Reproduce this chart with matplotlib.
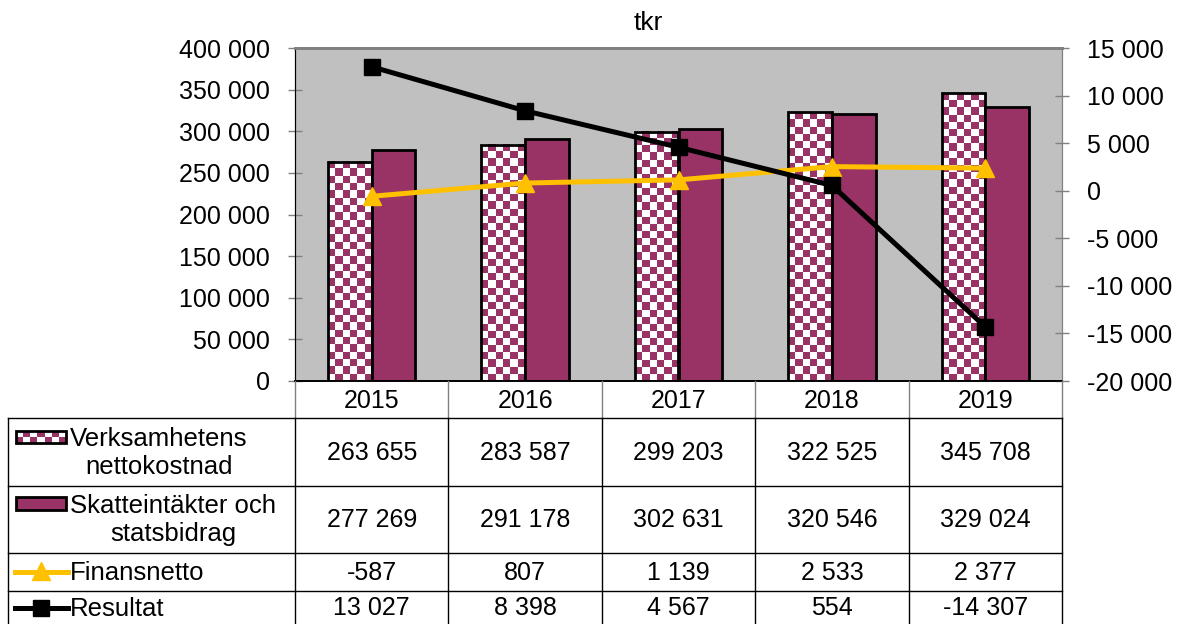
"""
Excel style combo chart with data table: nettokostnad vs skatteintäkter, tkr
"""

import matplotlib
matplotlib.use("Agg")
import matplotlib.pyplot as plt
import numpy as np
from matplotlib.colors import ListedColormap
from matplotlib.patches import Rectangle

plt.rcParams["font.family"] = ["Liberation Sans", "DejaVu Sans"]
plt.rcParams["axes.unicode_minus"] = False

# data
years = ["2015", "2016", "2017", "2018", "2019"]
nettokostnad = [263655, 283587, 299203, 322525, 345708]
skatteintakter = [277269, 291178, 302631, 320546, 329024]
finansnetto = [-587, 807, 1139, 2533, 2377]
resultat = [13027, 8398, 4567, 554, -14307]
series_names = ["Verksamhetens\nnettokostnad", "Skatteintäkter och\nstatsbidrag",
                "Finansnetto", "Resultat"]

MAROON = "#993366"
GOLD = "#FFC000"
GRAY = "#C0C0C0"
FS = 18
W, H = 1181, 624

checker_cmap = ListedColormap(["white", MAROON])


def fmt(v):
    return f"{v:,.0f}".replace(",", " ")


def checker(nx, ny):
    i, j = np.indices((ny, nx))
    return ((i + j) % 2).astype(float)


fig = plt.figure(figsize=(W / 100, H / 100), dpi=100)

# plot area in pixel terms
left, right, top, bottom = 295, 1062, 48, 381
ax = fig.add_axes([left / W, 1 - bottom / H, (right - left) / W, (bottom - top) / H])
ax.set_facecolor(GRAY)
ax2 = ax.twinx()

x = np.arange(len(years))
bw = 0.285
cell_px = 7.2
px_per_x = (right - left) / len(years)
px_per_y = (bottom - top) / 400000

bars1 = ax.bar(x - bw / 2, nettokostnad, bw, color="none", edgecolor="black", lw=2, zorder=3)
for b in bars1:
    bx, by = b.get_x(), b.get_y()
    bwid, bh = b.get_width(), b.get_height()
    nx = max(1, round(bwid * px_per_x / cell_px))
    ny = max(1, round(bh * px_per_y / cell_px))
    ax.imshow(checker(nx, ny), cmap=checker_cmap, vmin=0, vmax=1, origin="lower",
              extent=(bx, bx + bwid, by, by + bh), aspect="auto",
              interpolation="nearest", zorder=2)
ax.bar(x + bw / 2, skatteintakter, bw, color=MAROON, edgecolor="black", lw=2, zorder=3)

ax.set_xlim(-0.5, len(years) - 0.5)
ax.set_ylim(0, 400000)
ax.set_yticks(np.arange(0, 400001, 50000))
ax.set_yticklabels([fmt(v) for v in np.arange(0, 400001, 50000)], fontsize=FS)
ax.set_xticks([])
ax.tick_params(axis="y", direction="inout", length=10, width=1, color="#808080", pad=13)

ax2.plot(x, finansnetto, color=GOLD, lw=3.6, marker="^", ms=13, zorder=4)
ax2.plot(x, resultat, color="black", lw=3.6, marker="s", ms=12, zorder=5)
ax2.set_ylim(-20000, 15000)
ax2.set_yticks(np.arange(-20000, 15001, 5000))
ax2.set_yticklabels([fmt(v) for v in np.arange(-20000, 15001, 5000)], fontsize=FS)
ax2.tick_params(axis="y", direction="inout", length=10, width=1, color="#808080", pad=13)

for a in (ax, ax2):
    a.spines["top"].set_color("#808080")
    a.spines["top"].set_linewidth(2)
    a.spines["right"].set_color("#808080")
    a.spines["left"].set_color("black")
    a.spines["bottom"].set_color("black")
    a.spines["bottom"].set_linewidth(1.2)

fig.text(648 / W, 1 - 23 / H, "tkr", ha="center", va="center", fontsize=FS + 1)

# data table, drawn in pixel coordinates
tab = fig.add_axes([0, 0, 1, 1], zorder=10)
tab.set_xlim(0, W)
tab.set_ylim(H, 0)
tab.axis("off")
tab.patch.set_alpha(0)

col_edges = np.linspace(left, right, len(years) + 1)
row_edges = [418, 486, 553, 591, 640]
head_y = (bottom + 418) / 2

for xe in col_edges:
    tab.plot([xe, xe], [bottom, 418], color="#808080", lw=1)
    tab.plot([xe, xe], [418, H], color="black", lw=1)
tab.plot([8, 8], [418, H], color="black", lw=1)
for ye in row_edges[:-1]:
    tab.plot([8, right], [ye, ye], color="black", lw=1)

for i, yr in enumerate(years):
    cx = (col_edges[i] + col_edges[i + 1]) / 2
    tab.text(cx, head_y + 1, yr, ha="center", va="center", fontsize=FS)

table_rows = [nettokostnad, skatteintakter, finansnetto, resultat]
row_centers = [452, 519, 572, 607]
for r, vals in enumerate(table_rows):
    for i, v in enumerate(vals):
        cx = (col_edges[i] + col_edges[i + 1]) / 2
        tab.text(cx, row_centers[r] + 1, fmt(v), ha="center", va="center", fontsize=FS)

# row labels with legend keys
tab.text(70, 453, series_names[0], ha="left", va="center", multialignment="center",
         fontsize=FS + 0.5, linespacing=1.2)
tab.text(70, 520, series_names[1], ha="left", va="center", multialignment="center",
         fontsize=FS + 0.5, linespacing=1.2)
tab.text(70, 573, series_names[2], ha="left", va="center", fontsize=FS + 0.5)
tab.text(70, 609, series_names[3], ha="left", va="center", fontsize=FS + 0.5)

# legend keys
tab.imshow(checker(7, 2), cmap=checker_cmap, vmin=0, vmax=1, origin="upper",
           extent=(16, 66, 443, 431), aspect="auto", interpolation="nearest", zorder=2)
tab.add_patch(Rectangle((16, 431), 50, 12, fill=False, edgecolor="black", lw=2, zorder=3))
tab.add_patch(Rectangle((16, 497), 50, 13, facecolor=MAROON, edgecolor="black", lw=2, zorder=3))
tab.plot([15, 68], [572, 572], color=GOLD, lw=3.6)
tab.plot([41], [571], marker="^", color=GOLD, ms=13)
tab.plot([15, 68], [608, 608], color="black", lw=3.6)
tab.plot([41], [608], marker="s", color="black", ms=12)
tab.set_xlim(0, W)
tab.set_ylim(H, 0)

fig.savefig("out.png", dpi=100)
